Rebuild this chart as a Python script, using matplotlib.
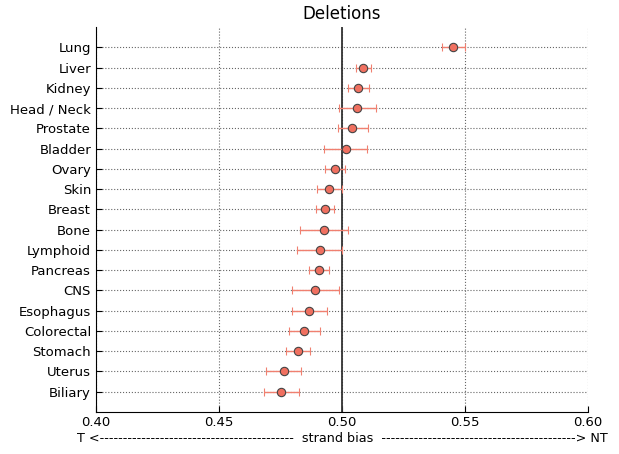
import numpy as np
import matplotlib
matplotlib.use("Agg")
import matplotlib.pyplot as plt

tissues = ["Lung", "Liver", "Kidney", "Head / Neck", "Prostate", "Bladder", "Ovary",
           "Skin", "Breast", "Bone", "Lymphoid", "Pancreas", "CNS", "Esophagus",
           "Colorectal", "Stomach", "Uterus", "Biliary"]
bias = [0.5451, 0.5087, 0.5066, 0.5062, 0.5039, 0.5015, 0.4973, 0.4949, 0.4930,
        0.4927, 0.4911, 0.4908, 0.4892, 0.4867, 0.4847, 0.4822, 0.4764, 0.4752]
low = [0.5405, 0.5057, 0.5024, 0.4988, 0.4982, 0.4927, 0.4930, 0.4898, 0.4893,
       0.4831, 0.4818, 0.4867, 0.4795, 0.4798, 0.4786, 0.4774, 0.4691, 0.4682]
high = [0.5500, 0.5118, 0.5108, 0.5137, 0.5106, 0.5103, 0.5013, 0.5000, 0.4967,
        0.5023, 0.4999, 0.4947, 0.4987, 0.4938, 0.4909, 0.4871, 0.4835, 0.4824]
xticks = [0.40, 0.45, 0.50, 0.55, 0.60]

bias = np.array(bias)
xerr = [bias - np.array(low), np.array(high) - bias]
ypos = np.arange(len(tissues))

fig = plt.figure(figsize=(6.19, 4.54), dpi=100)
ax = fig.add_axes([0.155, 0.0925, 0.795, 0.848])

ax.axvline(0.5, color="#333333", lw=1.3, zorder=1)
ax.errorbar(bias, ypos, xerr=xerr, fmt="o", color="#f07868", ecolor="#f08070",
            elinewidth=1, capsize=3, capthick=0.8, ms=6, mfc="#f07060",
            mec="#444444", mew=0.8, zorder=3)

ax.set_yticks(ypos)
ax.set_yticklabels(tissues, fontsize=9.5)
ax.set_ylim(len(tissues), -1)
ax.set_xlim(0.4, 0.6)
ax.set_xticks(xticks)
ax.set_xticklabels(["%.2f" % v for v in xticks], fontsize=9.5)
ax.grid(True, ls=":", color="#666666", lw=0.8)
ax.set_axisbelow(True)
for s in ["top", "right"]:
    ax.spines[s].set_visible(False)
ax.tick_params(direction="in", length=4, top=False, right=False)
ax.tick_params(axis="x", pad=3)

ax.set_title("Deletions", fontsize=12)
ax.set_xlabel("T <" + "-" * 42 + "  strand bias  " + "-" * 42 + "> NT", fontsize=9.2, labelpad=2)

fig.savefig("out.png", dpi=100)
